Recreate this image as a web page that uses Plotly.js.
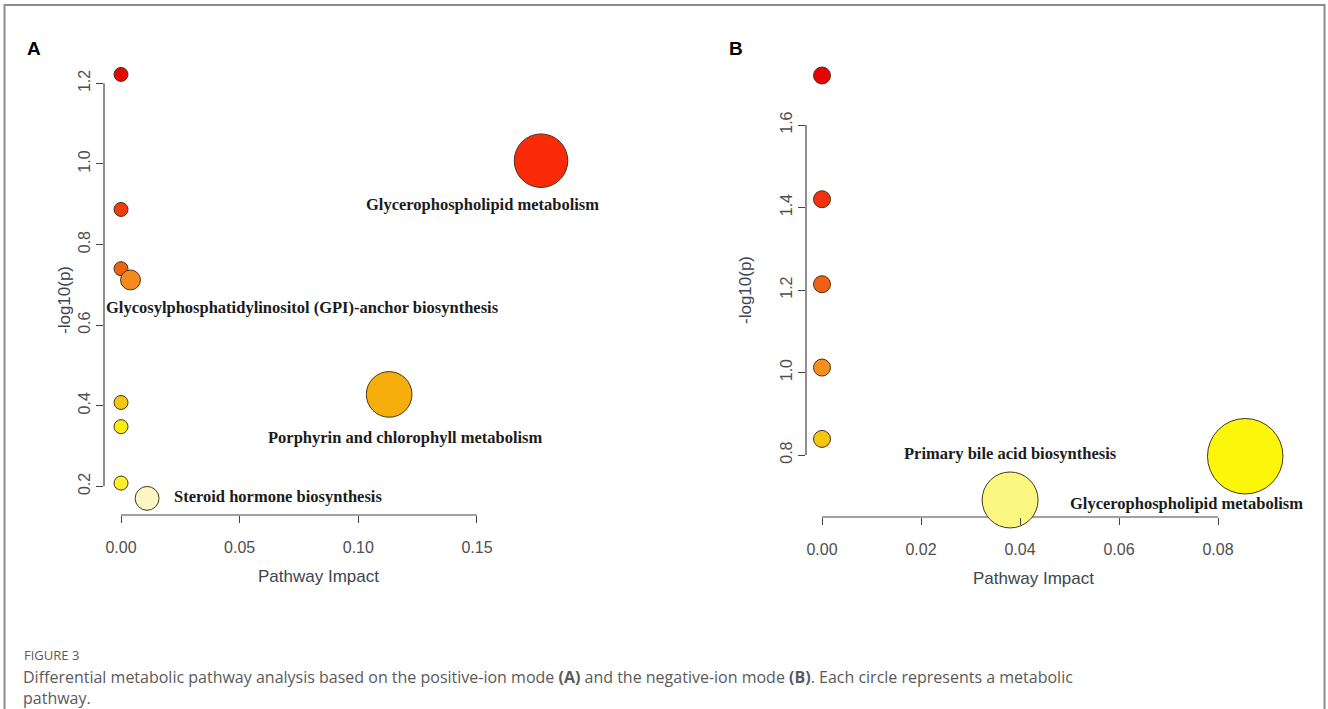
<!DOCTYPE html>
<html>
<head>
<meta charset="utf-8">
<script src="https://cdn.plot.ly/plotly-3.0.1.min.js"></script>
<style>
  html, body { margin: 0; padding: 0; background: #fff; }
  #chart { width: 1328px; height: 709px; }
</style>
</head>
<body>
<div id="chart"></div>
<script>
// ---------- Data ----------
// Panel A: positive-ion mode
const pathwaysA = [
  "Pathway A1", "Pathway A2", "Pathway A3",
  "Glycosylphosphatidylinositol (GPI)-anchor biosynthesis",
  "Pathway A5", "Pathway A6", "Pathway A7",
  "Steroid hormone biosynthesis",
  "Glycerophospholipid metabolism",
  "Porphyrin and chlorophyll metabolism"
];
const impactA = [0, 0, 0, 0.004, 0, 0, 0, 0.011, 0.177, 0.113];
const logpA   = [1.222, 0.887, 0.740, 0.712, 0.408, 0.348, 0.208, 0.170, 1.008, 0.428];

// Panel B: negative-ion mode
const pathwaysB = [
  "Pathway B1", "Pathway B2", "Pathway B3", "Pathway B4", "Pathway B5",
  "Primary bile acid biosynthesis",
  "Glycerophospholipid metabolism"
];
const impactB = [0, 0, 0, 0, 0, 0.038, 0.0855];
const logpB   = [1.720, 1.420, 1.214, 1.012, 0.839, 0.691, 0.797];

// Axis ticks
const xTicksA = [0, 0.05, 0.10, 0.15];
const xTickLabelsA = ["0.00", "0.05", "0.10", "0.15"];
const yTicksA = [0.2, 0.4, 0.6, 0.8, 1.0, 1.2];
const yTickLabelsA = ["0.2", "0.4", "0.6", "0.8", "1.0", "1.2"];
const xTicksB = [0, 0.02, 0.04, 0.06, 0.08];
const xTickLabelsB = ["0.00", "0.02", "0.04", "0.06", "0.08"];
const yTicksB = [0.8, 1.0, 1.2, 1.4, 1.6];
const yTickLabelsB = ["0.8", "1.0", "1.2", "1.4", "1.6"];

// Labelled pathways (names shown on the plot)
const labelledA = [
  "Glycerophospholipid metabolism",
  "Glycosylphosphatidylinositol (GPI)-anchor biosynthesis",
  "Porphyrin and chlorophyll metabolism",
  "Steroid hormone biosynthesis"
];
const labelledB = [
  "Primary bile acid biosynthesis",
  "Glycerophospholipid metabolism"
];

// ---------- Styling ----------
const W = 1328, H = 709;
const px = v => v / W;            // pixel -> paper x
const py = v => 1 - v / H;        // pixel -> paper y

const colorsA = ["#e50606", "#ef3d0a", "#f0600f", "#f5891c", "#f3c70f",
                 "#fbee10", "#fbf02a", "#fbf6c4", "#fb2a08", "#f6ae0c"];
const colorsB = ["#ea0202", "#f0330e", "#f0620f", "#f5901a", "#f6c60f",
                 "#fbf882", "#fbf60a"];

const sizeA = impactA.map(v => 14 + 94 * Math.sqrt(v));
const sizeB = impactB.map(v => 17 + 200 * Math.sqrt(v));

const outline = "#4a3418";
const tickFont = { family: "Liberation Sans, Arial, sans-serif", size: 16, color: "#4e4e4e" };
const titleFont = { family: "Liberation Sans, Arial, sans-serif", size: 17, color: "#3c4650" };
const labelFont = { family: "Liberation Serif, Times New Roman, serif", size: 16.5, color: "#1c1c1c", weight: 700 };
const capFont = { family: "Open Sans, Noto Sans, sans-serif", size: 16, color: "#5a5a5a" };

const traceA = {
  type: "scatter", mode: "markers",
  x: impactA, y: logpA, text: pathwaysA,
  xaxis: "x", yaxis: "y",
  cliponaxis: false,
  marker: { size: sizeA, color: colorsA, line: { color: outline, width: 1 }, opacity: 1 },
  hoverinfo: "text+x+y", showlegend: false
};
const traceB = {
  type: "scatter", mode: "markers",
  x: impactB, y: logpB, text: pathwaysB,
  xaxis: "x2", yaxis: "y2",
  cliponaxis: false,
  marker: { size: sizeB, color: colorsB, line: { color: outline, width: 1 }, opacity: 1 },
  hoverinfo: "text+x+y", showlegend: false
};

// Panel A geometry (pixels)
const axA = { left: 104, right: 640, top: 30, bottom: 515, x0: 121, kx: 2373, y12: 83.3, ky: 403 };
// Panel B geometry (pixels)
const axB = { left: 806, right: 1320, top: 30, bottom: 517, x0: 822, kx: 4950, y16: 125, ky: 412.5 };

const xRangeA = [(axA.left - axA.x0) / axA.kx, (axA.right - axA.x0) / axA.kx];
const yRangeA = [1.2 - (axA.bottom - axA.y12) / axA.ky, 1.2 + (axA.y12 - axA.top) / axA.ky];
const xRangeB = [(axB.left - axB.x0) / axB.kx, (axB.right - axB.x0) / axB.kx];
const yRangeB = [1.6 - (axB.bottom - axB.y16) / axB.ky, 1.6 + (axB.y16 - axB.top) / axB.ky];

function xAxis(domain, range, vals, text) {
  return {
    domain: domain, range: range, showgrid: false, zeroline: false, showline: false,
    tickmode: "array", tickvals: vals, ticktext: text,
    ticks: "outside", ticklen: 7, tickwidth: 1, tickcolor: "#444",
    tickfont: tickFont, ticklabelstandoff: 11, fixedrange: true
  };
}
function yAxis(domain, range, vals, text) {
  return {
    domain: domain, range: range, showgrid: false, zeroline: false, showline: false,
    tickmode: "array", tickvals: vals, ticktext: text,
    ticks: "outside", ticklen: 7, tickwidth: 1, tickcolor: "#444",
    tickangle: -90, tickfont: tickFont, ticklabelstandoff: 0, fixedrange: true
  };
}

const layout = {
  width: W, height: H,
  margin: { l: 0, r: 0, t: 0, b: 0 },
  paper_bgcolor: "#ffffff", plot_bgcolor: "rgba(0,0,0,0)",
  xaxis: Object.assign(xAxis([px(axA.left), px(axA.right)], xRangeA, xTicksA, xTickLabelsA), { anchor: "y" }),
  yaxis: Object.assign(yAxis([py(axA.bottom), py(axA.top)], yRangeA, yTicksA, yTickLabelsA), { anchor: "x" }),
  xaxis2: Object.assign(xAxis([px(axB.left), px(axB.right)], xRangeB, xTicksB, xTickLabelsB), { anchor: "y2" }),
  yaxis2: Object.assign(yAxis([py(axB.bottom), py(axB.top)], yRangeB, yTicksB, yTickLabelsB), { anchor: "x2" }),
  shapes: [
    { type: "rect", xref: "paper", yref: "paper", x0: px(4.5), x1: px(1324.5), y0: py(740), y1: py(5),
      line: { color: "#8c8c8c", width: 2 }, fillcolor: "rgba(0,0,0,0)", layer: "below" },
    { type: "line", xref: "x domain", yref: "y", x0: 0, x1: 0, y0: yTicksA[0], y1: yTicksA[yTicksA.length - 1],
      line: { color: "#444", width: 1.2 }, layer: "below" },
    { type: "line", xref: "x", yref: "y domain", x0: xTicksA[0], x1: xTicksA[xTicksA.length - 1], y0: 0, y1: 0,
      line: { color: "#444", width: 1.2 }, layer: "below" },
    { type: "line", xref: "x2 domain", yref: "y2", x0: 0, x1: 0, y0: yTicksB[0], y1: yTicksB[yTicksB.length - 1],
      line: { color: "#444", width: 1.2 }, layer: "below" },
    { type: "line", xref: "x2", yref: "y2 domain", x0: xTicksB[0], x1: xTicksB[xTicksB.length - 1], y0: 0, y1: 0,
      line: { color: "#444", width: 1.2 }, layer: "below" }
  ],
  annotations: [
    { xref: "paper", yref: "paper", x: px(25), y: py(48), xanchor: "left", yanchor: "middle", showarrow: false,
      text: "A", font: { family: "Liberation Sans, Arial, sans-serif", size: 19, color: "#000", weight: 700 } },
    { xref: "paper", yref: "paper", x: px(727), y: py(48), xanchor: "left", yanchor: "middle", showarrow: false,
      text: "B", font: { family: "Liberation Sans, Arial, sans-serif", size: 19, color: "#000", weight: 700 } },
    { xref: "paper", yref: "paper", x: px(318), y: py(576), xanchor: "center", yanchor: "middle", showarrow: false,
      text: "Pathway Impact", font: titleFont },
    { xref: "paper", yref: "paper", x: px(64), y: py(300), xanchor: "center", yanchor: "middle", showarrow: false,
      text: "-log10(p)", textangle: -90, font: titleFont },
    { xref: "paper", yref: "paper", x: px(1033), y: py(578), xanchor: "center", yanchor: "middle", showarrow: false,
      text: "Pathway Impact", font: titleFont },
    { xref: "paper", yref: "paper", x: px(745), y: py(290), xanchor: "center", yanchor: "middle", showarrow: false,
      text: "-log10(p)", textangle: -90, font: titleFont },
    { xref: "paper", yref: "paper", x: px(482), y: py(204), showarrow: false, xanchor: "center", yanchor: "middle",
      text: labelledA[0], font: labelFont },
    { xref: "paper", yref: "paper", x: px(302), y: py(307), showarrow: false, xanchor: "center", yanchor: "middle",
      text: labelledA[1], font: labelFont },
    { xref: "paper", yref: "paper", x: px(405), y: py(437), showarrow: false, xanchor: "center", yanchor: "middle",
      text: labelledA[2], font: labelFont },
    { xref: "paper", yref: "paper", x: px(278), y: py(496), showarrow: false, xanchor: "center", yanchor: "middle",
      text: labelledA[3], font: labelFont },
    { xref: "paper", yref: "paper", x: px(1010), y: py(453), showarrow: false, xanchor: "center", yanchor: "middle",
      text: labelledB[0], font: labelFont },
    { xref: "paper", yref: "paper", x: px(1186), y: py(503), showarrow: false, xanchor: "center", yanchor: "middle",
      text: labelledB[1], font: labelFont },
    { xref: "paper", yref: "paper", x: px(22), y: py(655), xanchor: "left", yanchor: "middle", showarrow: false,
      text: "FIGURE 3", font: { family: "Open Sans, Noto Sans, sans-serif", size: 13, color: "#5a5a5a" } },
    { xref: "paper", yref: "paper", x: px(22), y: py(665), xanchor: "left", yanchor: "top", align: "left",
      showarrow: false, borderpad: 0,
      text: "Differential metabolic pathway analysis based on the positive-ion mode <b>(A)</b> and the negative-ion mode <b>(B)</b>. Each circle represents a metabolic<br>pathway.",
      font: capFont }
  ]
};

Plotly.newPlot("chart", [traceA, traceB], layout, { displayModeBar: false, staticPlot: true });
</script>
</body>
</html>
